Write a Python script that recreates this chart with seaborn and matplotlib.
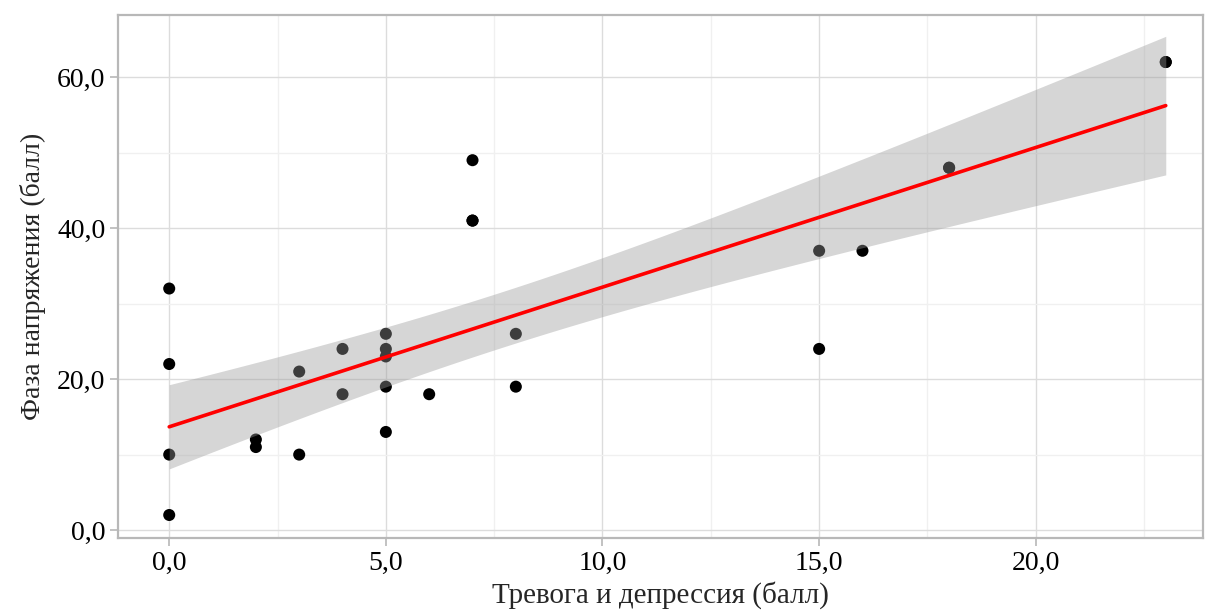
import numpy as np
import pandas as pd
import matplotlib
matplotlib.use("Agg")
import matplotlib.pyplot as plt
from matplotlib.ticker import FuncFormatter, MultipleLocator
import seaborn as sns

# Data (a few coincident points are assumed hidden under visible ones)
anxiety = [0, 0, 0, 0, 2, 2, 3, 3, 4, 4, 5, 5, 5, 5, 5, 6, 7, 7, 7, 8, 8, 15, 15, 16, 18, 18, 23, 23]
tension = [32, 22, 10, 2, 12, 11, 21, 10, 24, 18, 26, 24, 23, 19, 13, 18, 49, 41, 41, 26, 19, 37, 24, 37, 48, 48, 62, 62]
x_label = "Тревога и депрессия (балл)"
y_label = "Фаза напряжения (балл)"

df = pd.DataFrame({"x": anxiety, "y": tension})

sns.set_style("white")
plt.rcParams["font.family"] = ["Liberation Serif", "DejaVu Serif"]

fig = plt.figure(figsize=(12.05, 6.1), dpi=100)
ax = fig.add_axes([0.098, 0.118, 0.900, 0.857])

sns.scatterplot(data=df, x="x", y="y", color="black", s=75, edgecolor="none", ax=ax, zorder=3)
sns.regplot(data=df, x="x", y="y", scatter=False, ci=None, ax=ax,
            line_kws=dict(color="#ff0000", lw=2.6, zorder=5))

# analytic 95% confidence band of the linear fit (as in ggplot geom_smooth(method="lm"))
xv = df["x"].to_numpy(float)
yv = df["y"].to_numpy(float)
n = len(xv)
b, a = np.polyfit(xv, yv, 1)
resid = yv - (a + b * xv)
s = np.sqrt(np.sum(resid ** 2) / (n - 2))
dfree = n - 2
z = 1.959964
tq = z + (z**3 + z) / (4 * dfree) + (5 * z**5 + 16 * z**3 + 3 * z) / (96 * dfree**2)
grid = np.linspace(xv.min(), xv.max(), 200)
se = s * np.sqrt(1 / n + (grid - xv.mean()) ** 2 / np.sum((xv - xv.mean()) ** 2))
fit = a + b * grid
ax.fill_between(grid, fit - tq * se, fit + tq * se, color="#999999", alpha=0.4,
                linewidth=0, zorder=4)

ax.set_xlim(-1.18, 23.85)
ax.set_ylim(-1.05, 68.2)
ax.xaxis.set_major_locator(MultipleLocator(5))
ax.xaxis.set_minor_locator(MultipleLocator(2.5))
ax.yaxis.set_major_locator(MultipleLocator(20))
ax.yaxis.set_minor_locator(MultipleLocator(10))
fmt = FuncFormatter(lambda v, p: f"{v:.1f}".replace(".", ","))
ax.xaxis.set_major_formatter(fmt)
ax.yaxis.set_major_formatter(fmt)

ax.grid(which="major", color="#dcdcdc", lw=1.0, zorder=0)
ax.grid(which="minor", color="#f0f0f0", lw=1.0, zorder=0)
ax.set_axisbelow(True)

for sp in ax.spines.values():
    sp.set_color("#b8b8b8")
    sp.set_linewidth(1.6)

ax.tick_params(axis="both", which="major", length=6, width=1.2, color="#b8b8b8",
               labelsize=20, labelcolor="black", pad=3, bottom=True, left=True)
ax.tick_params(which="minor", length=0)

ax.set_xlabel(x_label, fontsize=21, labelpad=4)
ax.set_ylabel(y_label, fontsize=20, labelpad=8)

fig.savefig("out.png", dpi=100)
